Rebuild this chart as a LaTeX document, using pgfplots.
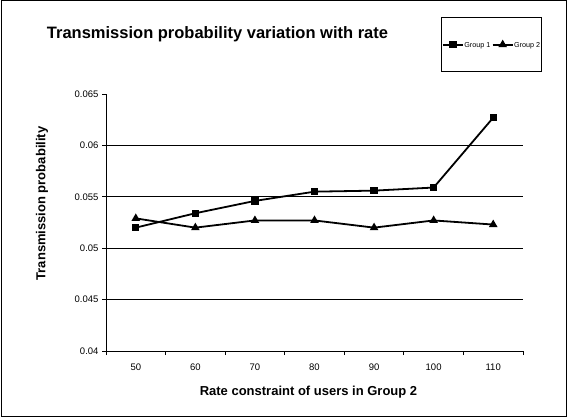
\documentclass[border=0pt]{standalone}
\usepackage{fontspec}
\setmainfont{Liberation Sans}
\usepackage{pgfplots}
\pgfplotsset{compat=1.18}

\begin{document}
\begin{tikzpicture}
  \path[use as bounding box] (0pt,0pt) rectangle (572pt,418pt);
  \draw[line width=1pt] (1pt,2pt) rectangle (566pt,417pt);
  \begin{axis}[
    at={(106pt,67pt)}, anchor=south west,
    scale only axis,
    width=417pt, height=257pt,
    xmin=-0.5, xmax=6.5,
    ymin=0.04, ymax=0.065,
    axis lines=left,
    axis line style={-, line width=0.9pt},
    tick align=outside,
    xtick={0,...,6},
    xticklabels={50,60,70,80,90,100,110},
    major x tick style={draw=none},
    minor xtick={-0.5,0.5,...,6.5},
    minor tick length=4pt,
    every tick/.style={black, line width=0.9pt},
    ytick={0.04,0.045,0.05,0.055,0.06,0.065},
    major tick length=4pt,
    scaled y ticks=false,
    yticklabel style={/pgf/number format/fixed, /pgf/number format/precision=3},
    extra y ticks={0.045,0.05,0.055,0.06},
    extra y tick labels={},
    extra y tick style={grid=major, major tick length=0pt},
    grid style={black, line width=0.9pt},
    /pgf/number format/assume math mode=true,
    ticklabel style={font=\fontsize{9.5}{11}\selectfont},
    xticklabel style={yshift=-5pt},
    title={Transmission probability variation with rate},
    title style={font=\fontsize{16.5}{19}\selectfont\bfseries,
      at={(axis description cs:0.2674,1.2101)}, anchor=center},
    xlabel={Rate constraint of users in Group 2},
    xlabel style={font=\fontsize{13}{15}\selectfont\bfseries,
      at={(axis description cs:0.4856,-0.1595)}, anchor=center},
    ylabel={Transmission probability},
    ylabel style={font=\fontsize{13}{15}\selectfont\bfseries,
      at={(axis description cs:-0.1535,0.5739)}, anchor=center, rotate=0},
    clip=false,
    legend columns=2,
    legend style={draw=black, line width=0.9pt, fill=white,
      at={(axis description cs:0.8034,1.2996)}, anchor=north west,
      inner xsep=0.5pt, inner ysep=24pt,
      font=\fontsize{7.2}{8}\selectfont,
      nodes={inner sep=0.5pt, text depth=0pt},
      /tikz/every even column/.append style={column sep=1pt}},
    legend image code/.code={
      \draw[mark repeat=2, mark phase=2, #1]
        plot coordinates {(0pt,0pt) (10pt,0pt) (20pt,0pt)};},
  ]
    \addplot[black, line width=1.8pt, mark=square*, mark size=2.8pt,
      mark options={solid}]
      coordinates {
        (0,0.0520) (1,0.0534) (2,0.0546) (3,0.0555)
        (4,0.0556) (5,0.0559) (6,0.0627)
      };
    \addlegendentry{Group 1}
    \addplot[black, line width=1.8pt, mark=triangle*, mark size=3.2pt,
      mark options={solid}]
      coordinates {
        (0,0.0529) (1,0.0520) (2,0.0527) (3,0.0527)
        (4,0.0520) (5,0.0527) (6,0.0523)
      };
    \addlegendentry{Group 2}
  \end{axis}
\end{tikzpicture}
\end{document}
